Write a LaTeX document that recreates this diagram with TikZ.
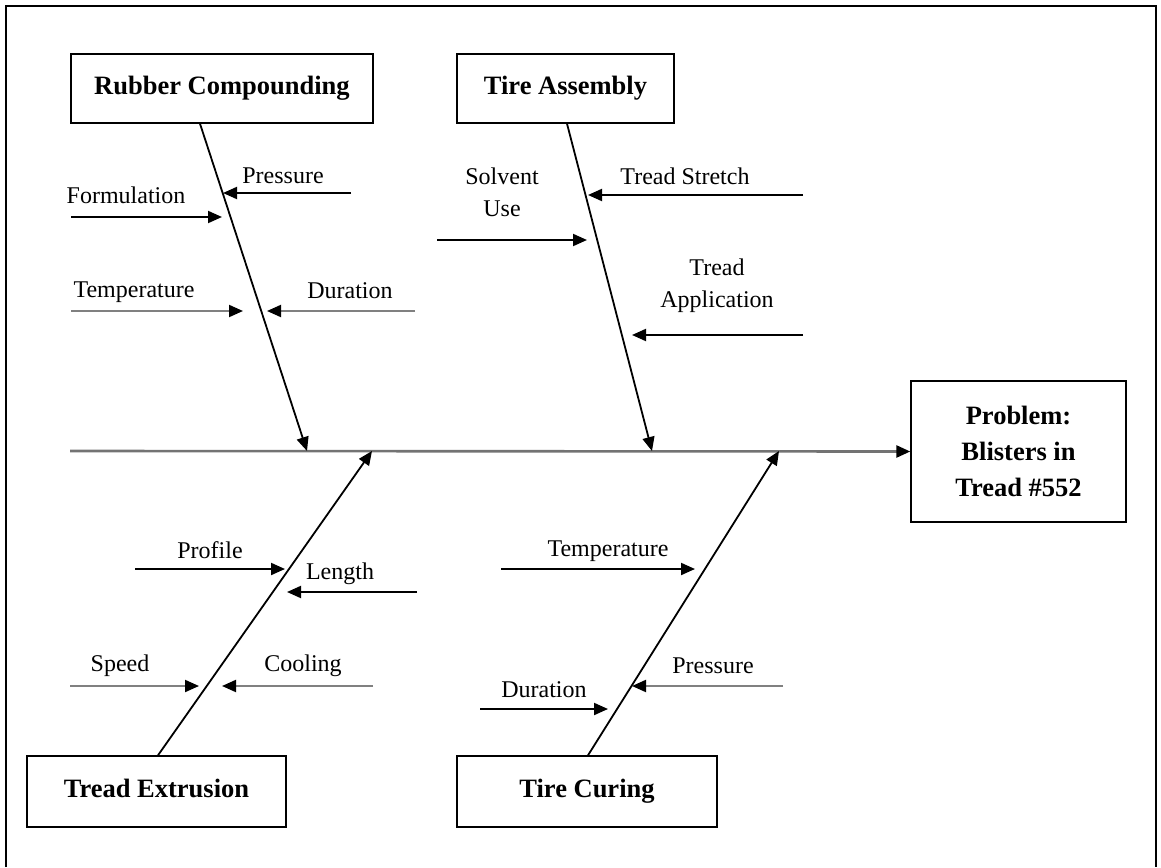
\documentclass[tikz,border=0pt]{standalone}
\usepackage{fontspec}
\setmainfont{Liberation Serif}
\usetikzlibrary{arrows.meta,calc}

\begin{document}
\begin{tikzpicture}[x=1pt,y=-1pt,
  catbox/.style={draw, line width=1.4pt, inner sep=0pt,
    font=\fontsize{26.5}{36}\selectfont\bfseries, align=center},
  cause/.style={inner sep=0pt, font=\fontsize{24}{32}\selectfont, align=center},
  tip/.style={-{Triangle[length=14pt,width=12pt,color=black]}},
  spine/.style={tip, line width=2.6pt, draw=black!55},
  bone/.style={tip, line width=1.8pt},
  feed/.style={tip, line width=2pt},
  feedg/.style={feed, draw=black!50}]

\useasboundingbox (0,0) rectangle (1161,867);
\draw[line width=1.4pt] (6,867) -- (6,6) -- (1156,6) -- (1156,867);

% category boxes and the effect
\node[catbox, minimum width=302pt, minimum height=69pt] (rc) at (222,88.5) {Rubber Compounding};
\node[catbox, minimum width=217pt, minimum height=69pt] (ta) at (565.5,88.5) {Tire Assembly};
\node[catbox, minimum width=259pt, minimum height=71pt] (te) at (156.5,791.5) {Tread Extrusion\vphantom{g}};
\node[catbox, minimum width=260pt, minimum height=71pt] (tc) at (587,791.5) {Tire Curing};
\node[catbox, minimum width=215pt, minimum height=141pt] (prob) at (1018.5,451.5)
  {Problem:\\Blisters in\\Tread \#552};

% spine and main bones
\coordinate (s0) at (70,451);
\coordinate (rcE) at (307,451);
\coordinate (taE) at (652,451);
\coordinate (teE) at (372,451);
\coordinate (tcE) at (779,451);
\draw[spine] (s0) -- (prob.west);
\draw[bone] ($(rc.south)+(-22,0)$) -- (rcE);
\draw[bone] ($(ta.south)+(1.5,0)$) -- (taE);
\draw[bone] ($(te.north)+(1.5,0)$) -- (teE);
\draw[bone] ($(tc.north)+(1,0)$) -- (tcE);

% Rubber Compounding causes
\node[cause] (formulation) at (126,195) {Formulation};
\node[cause] (rcpress) at (283,176) {Pressure};
\node[cause] (rctemp) at (134,292) {Temperature};
\node[cause] (rcdur) at (350,291) {Duration};
\coordinate (f0) at (71,217);  \coordinate (f1) at (222,217);
\coordinate (p0) at (351,193); \coordinate (p1) at (223,193);
\coordinate (t0) at (71,311);  \coordinate (t1) at (243,311);
\coordinate (d0) at (415,311); \coordinate (d1) at (267,311);
\draw[feed] (f0) -- (f1);
\draw[feed] (p0) -- (p1);
\draw[feedg] (t0) -- (t1);
\draw[feedg] (d0) -- (d1);

% Tire Assembly causes
\node[cause] (solvent) at (502,192) {Solvent\\Use};
\node[cause] (stretch) at (685,176) {Tread Stretch};
\node[cause] (tapp) at (717,286) {Tread\\Application};
\coordinate (sv0) at (437,240); \coordinate (sv1) at (587,240);
\coordinate (ts0) at (803,195); \coordinate (ts1) at (588,195);
\coordinate (tp0) at (803,335); \coordinate (tp1) at (632,335);
\draw[feed] (sv0) -- (sv1);
\draw[feed] (ts0) -- (ts1);
\draw[feed] (tp0) -- (tp1);

% Tread Extrusion causes
\node[cause] (profile) at (210,550) {Profile};
\node[cause] (length) at (340,574) {Length};
\node[cause] (speed) at (120,666) {Speed};
\node[cause] (cooling) at (303,666) {Cooling};
\coordinate (pr0) at (135,569); \coordinate (pr1) at (285,569);
\coordinate (ln0) at (417,592); \coordinate (ln1) at (287,592);
\coordinate (sp0) at (70,686);  \coordinate (sp1) at (199,686);
\coordinate (co0) at (373,686); \coordinate (co1) at (222,686);
\draw[feed] (pr0) -- (pr1);
\draw[feed] (ln0) -- (ln1);
\draw[feedg] (sp0) -- (sp1);
\draw[feedg] (co0) -- (co1);

% Tire Curing causes
\node[cause] (tctemp) at (608,551) {Temperature};
\node[cause] (tcpress) at (713,666) {Pressure};
\node[cause] (tcdur) at (544,690) {Duration};
\coordinate (ct0) at (501,569); \coordinate (ct1) at (695,569);
\coordinate (cp0) at (783,686); \coordinate (cp1) at (632,686);
\coordinate (cd0) at (480,709); \coordinate (cd1) at (608,709);
\draw[feed] (ct0) -- (ct1);
\draw[feedg] (cp0) -- (cp1);
\draw[feed] (cd0) -- (cd1);
\end{tikzpicture}
\end{document}
